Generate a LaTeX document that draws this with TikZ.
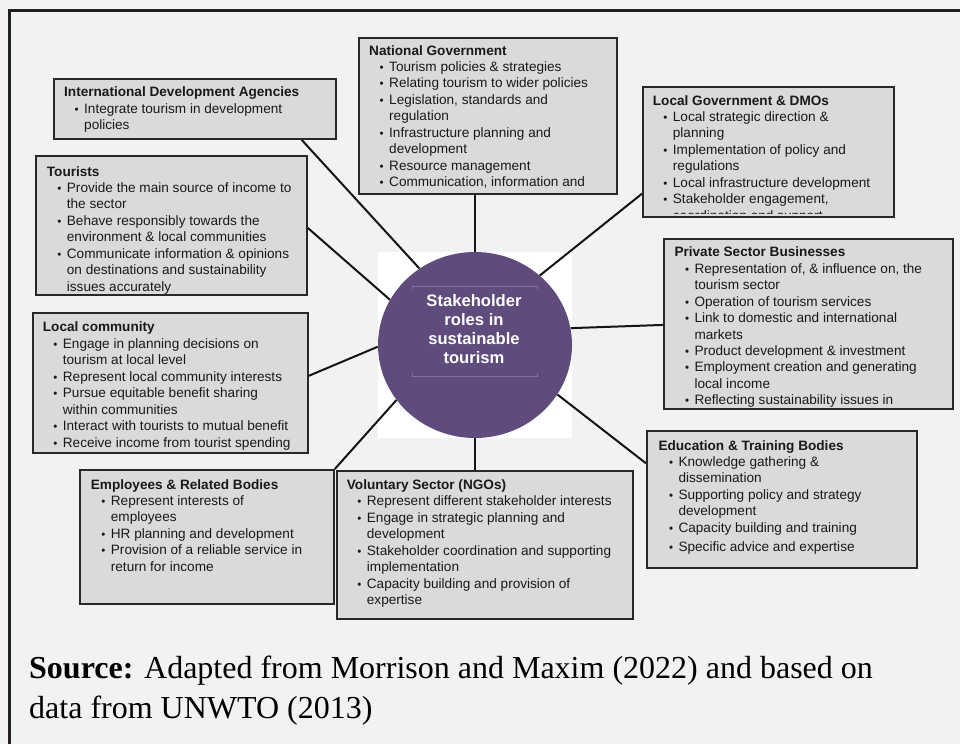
\documentclass[tikz,border=0pt]{standalone}
\usepackage{fontspec}
\setmainfont{Liberation Sans}
\newfontfamily\srcfont{Liberation Serif}
\usepackage{graphicx}
\usetikzlibrary{shapes.geometric,calc}
\pgfdeclarelayer{bgzero}
\pgfdeclarelayer{bgone}
\pgfsetlayers{bgzero,bgone,main}
\definecolor{bgc}{RGB}{241,242,244}
\definecolor{boxfill}{RGB}{218,218,218}
\definecolor{boxline}{RGB}{40,40,40}
\definecolor{hubc}{RGB}{95,75,124}
\definecolor{hubline}{RGB}{130,115,155}
\definecolor{framec}{RGB}{35,31,32}
\definecolor{linkc}{RGB}{20,20,20}
\definecolor{txtc}{RGB}{25,25,25}
\newcommand\bu{\hspace*{10.5pt}\makebox[9.5pt][l]{\scalebox{0.85}{•}}}
\newcommand\ct{\hspace*{20pt}}
\begin{document}
\begin{tikzpicture}[x=1pt,y=-1pt,
  sbox/.style={draw=boxline, fill=boxfill, line width=1.8pt, rectangle, inner sep=0pt, anchor=north west},
  txt/.style={inner sep=0pt, anchor=north west, align=left, text=txtc, font=\fontsize{13.6}{16.45}\selectfont},
  link/.style={draw=linkc, line width=2pt}]
\useasboundingbox (0,0) rectangle (960,744);
\begin{pgfonlayer}{bgzero}
  \fill[bgc] (0,0) rectangle (960,744);
  \fill[white] (378,252) rectangle (572,438);
\end{pgfonlayer}
\draw[framec, line width=3pt] (9,744) -- (9,10.5) -- (960,10.5);

% hub
\node[ellipse, fill=hubc, minimum width=194pt, minimum height=186pt, inner sep=0pt] (hub) at (475,345) {};
\draw[hubline, line width=0.6pt] (412,289) -- (412,286) -- (537,286) -- (537,289);
\draw[hubline, line width=0.6pt] (412,373) -- (412,376) -- (537,376) -- (537,373);
\node[align=center, text=white, font=\bfseries\fontsize{16.6}{19}\selectfont, inner sep=0pt] (hubT) at (474,329) {Stakeholder\\roles in\\sustainable\\tourism};

% boxes
\node[sbox, minimum width=258pt, minimum height=156pt] (nat) at (358,37) {};
\node[sbox, minimum width=282pt, minimum height=60pt] (intl) at (53,78) {};
\node[sbox, minimum width=271pt, minimum height=139pt] (tour) at (35,155) {};
\node[sbox, minimum width=251pt, minimum height=130pt] (lg) at (642,86) {};
\node[sbox, minimum width=289pt, minimum height=170pt] (ps) at (663,238) {};
\node[sbox, minimum width=275pt, minimum height=140pt] (lc) at (32,312) {};
\node[sbox, minimum width=270pt, minimum height=137pt] (edu) at (646,430) {};
\node[sbox, minimum width=254pt, minimum height=134pt] (emp) at (79,469) {};
\node[sbox, minimum width=296pt, minimum height=148pt] (vol) at (336,470) {};

% texts (clipped to their boxes)
\begin{scope}
\clip ([shift={(2.5pt,2.5pt)}]nat.south west) rectangle ([shift={(-2.5pt,-2.5pt)}]nat.north east);
\node[txt] (natT) at (369,45) {\textbf{National Government}\\
\bu Tourism policies \& strategies\\
\bu Relating tourism to wider policies\\
\bu Legislation, standards and\\
\ct regulation\\
\bu Infrastructure planning and\\
\ct development\\
\bu Resource management\\
\bu Communication, information and};
\end{scope}

\node[txt] (intlT) at (64,86.7) {\textbf{International Development Agencies}\\
\bu Integrate tourism in development\\
\ct policies};

\node[txt] (tourT) at (46.7,166) {\textbf{Tourists}\\
\bu Provide the main source of income to\\
\ct the sector\\
\bu Behave responsibly towards the\\
\ct environment \& local communities\\
\bu Communicate information \& opinions\\
\ct on destinations and sustainability\\
\ct issues accurately};

\begin{scope}
\clip ([shift={(2.5pt,4.5pt)}]lg.south west) rectangle ([shift={(-2.5pt,-2.5pt)}]lg.north east);
\node[txt] (lgT) at (652.7,95) {\textbf{Local Government \& DMOs}\\
\bu Local strategic direction \&\\
\ct planning\\
\bu Implementation of policy and\\
\ct regulations\\
\bu Local infrastructure development\\
\bu Stakeholder engagement,\\
\ct coordination and support};
\end{scope}

\begin{scope}
\clip ([shift={(2.5pt,3pt)}]ps.south west) rectangle ([shift={(-2.5pt,-2.5pt)}]ps.north east);
\node[txt] (psT) at (674.3,246.7) {\textbf{Private Sector Businesses}\\
\bu Representation of, \& influence on, the\\
\ct tourism sector\\
\bu Operation of tourism services\\
\bu Link to domestic and international\\
\ct markets\\
\bu Product development \& investment\\
\bu Employment creation and generating\\
\ct local income\\
\bu Reflecting sustainability issues in};
\end{scope}

\begin{scope}
\clip ([shift={(2.5pt,4.5pt)}]lc.south west) rectangle ([shift={(-2.5pt,-2.5pt)}]lc.north east);
\node[txt] (lcT) at (42.7,321.7) {\textbf{Local community}\\
\bu Engage in planning decisions on\\
\ct tourism at local level\\
\bu Represent local community interests\\
\bu Pursue equitable benefit sharing\\
\ct within communities\\
\bu Interact with tourists to mutual benefit\\[1pt]
\bu Receive income from tourist spending};
\end{scope}

\node[txt] (eduT) at (658.3,440) {\textbf{Education \& Training Bodies}\\
\bu Knowledge gathering \&\\
\ct dissemination\\
\bu Supporting policy and strategy\\
\ct development\\
\bu Capacity building and training\\[3pt]
\bu Specific advice and expertise};

\node[txt] (empT) at (90.7,479) {\textbf{Employees \& Related Bodies}\\
\bu Represent interests of\\
\ct employees\\
\bu HR planning and development\\
\bu Provision of a reliable service in\\
\ct return for income};

\node[txt] (volT) at (346.7,479.3) {\textbf{Voluntary Sector (NGOs)}\\
\bu Represent different stakeholder interests\\
\bu Engage in strategic planning and\\
\ct development\\
\bu Stakeholder coordination and supporting\\
\ct implementation\\
\bu Capacity building and provision of\\
\ct expertise};

% source
\node[inner sep=0pt, anchor=north west, align=left, text=black, font=\srcfont\fontsize{32}{40}\selectfont] (src) at (29,656)
{\textbf{Source:} Adapted from Morrison and Maxim (2022) and based on\\data from UNWTO (2013)};

% connectors
\begin{pgfonlayer}{bgone}
\draw[link] (hub.north) -- (hub.north |- nat.south);
\draw[link] ($(intl.south west)!0.876!(intl.south east)$) -- (hub.126.6);
\draw[link] ($(tour.north east)!0.518!(tour.south east)$) -- (hub.152.9);
\draw[link] ($(lg.north west)!0.817!(lg.south west)$) -- (hub.47);
\draw[link] ($(ps.north west)!0.506!(ps.south west)$) -- (hub.10);
\draw[link] ($(lc.north east)!0.45!(lc.south east)$) -- (hub.181);
\draw[link] (emp.north east) -- (hub.215);
\draw[link] (hub.south) -- (hub.south |- vol.north);
\draw[link] ($(edu.north west)!0.24!(edu.south west)$) -- (hub.329);
\end{pgfonlayer}
\end{tikzpicture}
\end{document}
